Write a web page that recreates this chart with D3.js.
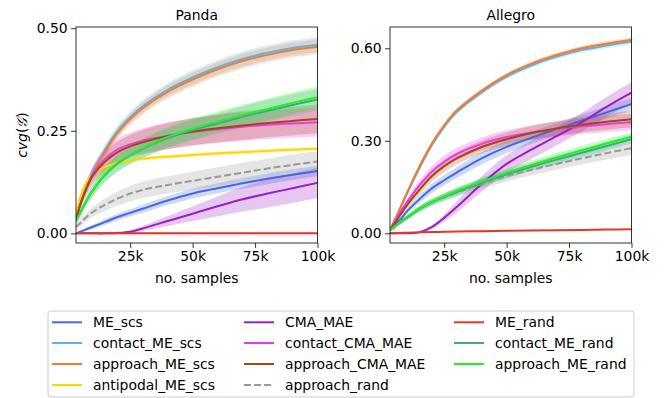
<!DOCTYPE html>
<html><head><meta charset="utf-8">
<script src="https://cdn.jsdelivr.net/npm/d3@7"></script>
<style>
body{margin:0;background:#fff;}
svg text{font-family:"DejaVu Sans",sans-serif;fill:#000;}
</style></head>
<body><svg id="c" width="665" height="398"></svg>
<script>
// ---------- data ----------
const xs = [3300, 5000, 7500, 10000, 15000, 20000, 25000, 30000, 40000, 50000, 60000, 70000, 80000, 90000, 100000];
const xTicks = [25000, 50000, 75000, 100000];
const xTickLabels = ["25k", "50k", "75k", "100k"];
const pandaYTicks = [0, 0.25, 0.5];
const allegroYTicks = [0, 0.3, 0.6];
const panelTitles = ["Panda", "Allegro"];

const seriesNames = ["ME_scs","contact_ME_scs","approach_ME_scs","antipodal_ME_scs","CMA_MAE","contact_CMA_MAE","approach_CMA_MAE","approach_rand","ME_rand","contact_ME_rand","approach_ME_rand"];
const seriesColors = ["#4169e1","#5ab4ea","#f47c30","#ffd700","#9a20c0","#ee36ee","#a24a0c","#999999","#e8352a","#3fa88b","#22f022"];

// Panda means
const panda_ME_scs          = [0,.004,.01,.016,.028,.04,.05,.06,.08,.097,.11,.122,.133,.143,.152];
const panda_contact_ME_scs  = [.037,.073,.114,.15,.205,.25,.283,.31,.35,.38,.405,.425,.44,.452,.46];
const panda_approach_ME_scs = [.035,.07,.11,.145,.2,.245,.278,.305,.345,.375,.4,.42,.435,.447,.455];
const panda_antipodal       = [.04,.09,.125,.145,.162,.172,.178,.182,.187,.191,.195,.198,.201,.204,.206];
const panda_CMA_MAE         = [0,0,0,0,0,.001,.004,.012,.03,.048,.066,.083,.097,.11,.123];
const panda_contact_CMA_MAE = [.03,.07,.11,.145,.182,.205,.217,.226,.238,.247,.254,.26,.265,.268,.271];
const panda_approach_CMA_MAE= [.03,.07,.11,.14,.175,.198,.212,.222,.237,.248,.256,.263,.269,.274,.279];
const panda_approach_rand   = [.016,.025,.04,.052,.07,.085,.097,.106,.118,.128,.138,.148,.158,.167,.175];
const panda_ME_rand         = [0,0,0,0,0,0,0,0,0,0,0,0,0,0,0];
const panda_contact_ME_rand = [.03,.05,.08,.104,.143,.17,.19,.206,.232,.252,.268,.284,.299,.313,.326];
const panda_approach_ME_rand= [.03,.05,.08,.105,.145,.172,.192,.208,.235,.255,.272,.288,.303,.318,.332];
// Panda band half-widths
const panda_ME_scs_sd          = [0,.002,.004,.005,.007,.008,.009,.01,.011,.012,.012,.013,.013,.013,.013];
const panda_contact_ME_scs_sd  = [.005,.007,.009,.01,.012,.013,.014,.015,.016,.017,.017,.018,.018,.018,.018];
const panda_approach_ME_scs_sd = [.005,.007,.009,.01,.012,.013,.014,.015,.016,.017,.017,.018,.018,.018,.018];
const panda_antipodal_sd       = [.004,.005,.005,.005,.005,.005,.005,.005,.005,.005,.005,.005,.005,.005,.005];
const panda_CMA_MAE_sd         = [0,0,0,0,0,.001,.003,.006,.012,.018,.024,.03,.034,.036,.037];
const panda_contact_CMA_MAE_sd = [.005,.01,.015,.02,.024,.026,.028,.03,.032,.033,.034,.035,.035,.035,.035];
const panda_approach_CMA_MAE_sd= [.005,.01,.015,.02,.024,.026,.028,.03,.032,.033,.034,.035,.035,.035,.035];
const panda_approach_rand_sd   = [.005,.008,.01,.012,.015,.017,.019,.02,.021,.022,.023,.024,.024,.025,.025];
const panda_ME_rand_sd         = [.002,.002,.002,.002,.002,.002,.002,.002,.002,.002,.002,.002,.002,.002,.002];
const panda_contact_ME_rand_sd = [.005,.008,.011,.014,.018,.02,.022,.023,.024,.025,.025,.026,.026,.026,.026];
const panda_approach_ME_rand_sd= [.005,.008,.011,.014,.018,.02,.022,.023,.024,.025,.025,.026,.026,.026,.026];

// Allegro means (no antipodal series)
const allegro_ME_scs          = [.01,.025,.045,.07,.11,.145,.172,.197,.243,.28,.31,.338,.365,.392,.419];
const allegro_contact_ME_scs  = [.01,.038,.082,.126,.21,.285,.345,.393,.457,.508,.545,.573,.594,.609,.622];
const allegro_approach_ME_scs = [.01,.04,.085,.13,.215,.29,.35,.398,.462,.513,.55,.578,.60,.615,.628];
const allegro_antipodal       = null;
const allegro_CMA_MAE         = [0,0,0,0,.003,.02,.05,.085,.16,.225,.272,.315,.36,.41,.456];
const allegro_contact_CMA_MAE = [.01,.035,.07,.1,.155,.2,.232,.257,.29,.312,.327,.338,.347,.354,.36];
const allegro_approach_CMA_MAE= [.01,.03,.06,.09,.14,.185,.218,.243,.28,.305,.325,.34,.352,.362,.37];
const allegro_approach_rand   = [.01,.02,.036,.05,.078,.1,.117,.132,.16,.185,.206,.225,.243,.26,.276];
const allegro_ME_rand         = [0,.0005,.001,.002,.003,.004,.005,.006,.007,.008,.009,.01,.011,.012,.013];
const allegro_contact_ME_rand = [.01,.02,.036,.05,.078,.1,.118,.134,.164,.191,.216,.239,.261,.283,.305];
const allegro_approach_ME_rand= [.01,.02,.037,.052,.08,.102,.12,.137,.168,.196,.222,.246,.269,.291,.313];
// Allegro band half-widths
const allegro_ME_scs_sd          = [.002,.004,.006,.008,.012,.015,.017,.018,.02,.02,.02,.02,.02,.02,.02];
const allegro_contact_ME_scs_sd  = [.002,.004,.005,.006,.007,.008,.008,.008,.008,.008,.008,.008,.008,.008,.008];
const allegro_approach_ME_scs_sd = [.002,.004,.005,.006,.007,.008,.008,.008,.008,.008,.008,.008,.008,.008,.008];
const allegro_antipodal_sd       = null;
const allegro_CMA_MAE_sd         = [0,0,0,0,.002,.006,.012,.018,.025,.028,.03,.03,.03,.032,.035];
const allegro_contact_CMA_MAE_sd = [.002,.005,.008,.012,.016,.018,.02,.02,.021,.022,.023,.024,.025,.026,.027];
const allegro_approach_CMA_MAE_sd= [.002,.005,.008,.012,.016,.018,.02,.02,.021,.022,.023,.024,.025,.026,.027];
const allegro_approach_rand_sd   = [.002,.004,.006,.008,.01,.012,.013,.014,.016,.017,.018,.019,.02,.021,.022];
const allegro_ME_rand_sd         = [.001,.001,.001,.001,.001,.001,.001,.001,.001,.001,.001,.001,.001,.001,.001];
const allegro_contact_ME_rand_sd = [.002,.004,.006,.007,.009,.01,.011,.012,.013,.014,.014,.015,.015,.015,.015];
const allegro_approach_ME_rand_sd= [.002,.004,.006,.007,.009,.01,.011,.012,.013,.014,.014,.015,.015,.015,.015];

const pandaMeans = [panda_ME_scs,panda_contact_ME_scs,panda_approach_ME_scs,panda_antipodal,panda_CMA_MAE,panda_contact_CMA_MAE,panda_approach_CMA_MAE,panda_approach_rand,panda_ME_rand,panda_contact_ME_rand,panda_approach_ME_rand];
const pandaSds = [panda_ME_scs_sd,panda_contact_ME_scs_sd,panda_approach_ME_scs_sd,panda_antipodal_sd,panda_CMA_MAE_sd,panda_contact_CMA_MAE_sd,panda_approach_CMA_MAE_sd,panda_approach_rand_sd,panda_ME_rand_sd,panda_contact_ME_rand_sd,panda_approach_ME_rand_sd];
const allegroMeans = [allegro_ME_scs,allegro_contact_ME_scs,allegro_approach_ME_scs,allegro_antipodal,allegro_CMA_MAE,allegro_contact_CMA_MAE,allegro_approach_CMA_MAE,allegro_approach_rand,allegro_ME_rand,allegro_contact_ME_rand,allegro_approach_ME_rand];
const allegroSds = [allegro_ME_scs_sd,allegro_contact_ME_scs_sd,allegro_approach_ME_scs_sd,allegro_antipodal_sd,allegro_CMA_MAE_sd,allegro_contact_CMA_MAE_sd,allegro_approach_CMA_MAE_sd,allegro_approach_rand_sd,allegro_ME_rand_sd,allegro_contact_ME_rand_sd,allegro_approach_ME_rand_sd];

// ---------- drawing ----------
const svg = d3.select("#c");
const FS = 13.9;
const axTop = 27, axBottom = 243;
const curve = d3.curveCatmullRom.alpha(0.5);
const panels = [
  {left:76, right:317.5, yDomain:[-0.0235,0.503], ticks:pandaYTicks, fmt:d3.format(".2f"), means:pandaMeans, sds:pandaSds, title:panelTitles[0]},
  {left:390, right:631.5, yDomain:[-0.0315,0.669], ticks:allegroYTicks, fmt:d3.format(".2f"), means:allegroMeans, sds:allegroSds, title:panelTitles[1]}
];

panels.forEach((p, pi) => {
  const x = d3.scaleLinear().domain([xs[0], 100000]).range([p.left, p.right]);
  const y = d3.scaleLinear().domain(p.yDomain).range([axBottom, axTop]);
  const g = svg.append("g");
  const clipId = "clip" + pi;
  svg.append("clipPath").attr("id", clipId).append("rect")
    .attr("x", p.left).attr("y", axTop).attr("width", p.right - p.left).attr("height", axBottom - axTop);
  const plot = g.append("g").attr("clip-path", `url(#${clipId})`);

  p.means.forEach((m, i) => {
    if (!m) return;
    const sd = p.sds[i];
    const pts = xs.map((xv, k) => ({x: xv, m: m[k], s: sd[k]}));
    plot.append("path").datum(pts)
      .attr("d", d3.area().curve(curve).x(d => x(d.x)).y0(d => y(d.m - d.s)).y1(d => y(d.m + d.s)))
      .attr("fill", seriesColors[i]).attr("fill-opacity", 0.25).attr("stroke", "none");
  });
  p.means.forEach((m, i) => {
    if (!m) return;
    const pts = xs.map((xv, k) => ({x: xv, m: m[k]}));
    plot.append("path").datum(pts)
      .attr("d", d3.line().curve(curve).x(d => x(d.x)).y(d => y(d.m)))
      .attr("fill", "none").attr("stroke", seriesColors[i]).attr("stroke-width", 2)
      .attr("stroke-dasharray", seriesNames[i] === "approach_rand" ? "7,3" : null);
  });

  // axes
  const xa = g.append("g").attr("transform", `translate(0,${axBottom})`)
    .call(d3.axisBottom(x).tickValues(xTicks).tickFormat((d, i) => xTickLabels[i]).tickSizeOuter(0).tickSize(4.9).tickPadding(3.5));
  const ya = g.append("g").attr("transform", `translate(${p.left},0)`)
    .call(d3.axisLeft(y).tickValues(p.ticks).tickFormat(p.fmt).tickSizeOuter(0).tickSize(4.9).tickPadding(3.5));
  [xa, ya].forEach(a => {
    a.select(".domain").remove();
    a.selectAll("line").attr("stroke", "#000").attr("stroke-width", 0.8);
    a.selectAll("text").attr("font-size", FS).attr("font-family", "DejaVu Sans");
  });
  g.append("rect").attr("x", p.left).attr("y", axTop).attr("width", p.right - p.left).attr("height", axBottom - axTop)
    .attr("fill", "none").attr("stroke", "#000").attr("stroke-width", 0.8);

  g.append("text").attr("x", (p.left + p.right) / 2).attr("y", 20).attr("text-anchor", "middle")
    .attr("font-size", FS).text(p.title);
  g.append("text").attr("x", (p.left + p.right) / 2).attr("y", 283).attr("text-anchor", "middle")
    .attr("font-size", FS).text("no. samples");
});

// y label
const yl = svg.append("text").attr("transform", "translate(27,135) rotate(-90)").attr("text-anchor", "middle").attr("font-size", FS);
yl.append("tspan").attr("font-style", "italic").text("cvg");
yl.append("tspan").text("(");
yl.append("tspan").attr("font-style", "italic").text("𝒢");
yl.append("tspan").text(")");

// legend
const leg = svg.append("g");
leg.append("rect").attr("x", 48).attr("y", 311).attr("width", 586).attr("height", 86).attr("rx", 3)
  .attr("fill", "#fff").attr("stroke", "#cccccc").attr("stroke-width", 1);
const colX = [52, 244, 454];
const rowY = [322.3, 343, 364, 385];
seriesNames.forEach((n, i) => {
  const c = Math.floor(i / 4), r = i % 4;
  leg.append("line").attr("x1", colX[c]).attr("x2", colX[c] + 30).attr("y1", rowY[r]).attr("y2", rowY[r])
    .attr("stroke", seriesColors[i]).attr("stroke-width", 2)
    .attr("stroke-dasharray", n === "approach_rand" ? "7,3" : null);
  leg.append("text").attr("x", colX[c] + 41).attr("y", rowY[r]).attr("dy", "0.35em").attr("font-size", FS).text(n);
});
</script></body></html>
